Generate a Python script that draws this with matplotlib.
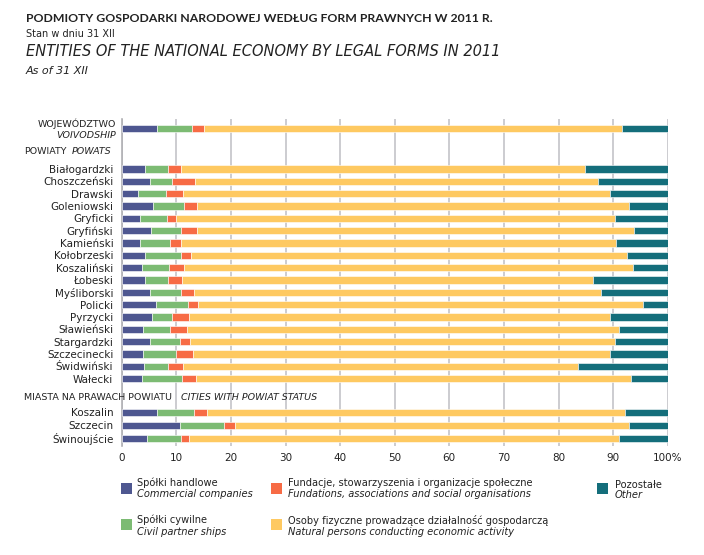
import matplotlib
matplotlib.use("Agg")
import matplotlib.pyplot as plt
from matplotlib.patches import Rectangle
import numpy as np

plt.rcParams['font.family'] = ['DejaVu Sans']

categories = ["Białogardzki", "Choszczeński", "Drawski", "Goleniowski", "Gryficki",
              "Gryfiński", "Kamieński", "Kołobrzeski", "Koszaliński", "Łobeski",
              "Myśliborski", "Policki", "Pyrzycki", "Sławieński", "Stargardzki",
              "Szczecinecki", "Świdwiński", "Wałecki"]
cities = ["Koszalin", "Szczecin", "Świnoujście"]

# cumulative boundaries (blue, +green, +red, +yellow); rest = other
voiv_cum = [6.5, 12.9, 15.1, 91.6]
pow_commercial = [4.3, 5.2, 3.0, 5.7, 3.4, 5.4, 3.4, 4.3, 3.7, 4.3, 5.1, 6.3, 5.5, 3.9, 5.2, 3.9, 4.1, 3.7]
pow_cum_civil  = [8.4, 9.3, 8.1, 11.5, 8.3, 10.9, 8.8, 10.8, 8.7, 8.4, 10.8, 12.1, 9.2, 8.8, 10.6, 10.0, 8.4, 11.0]
pow_cum_found  = [10.9, 13.4, 11.3, 13.7, 9.9, 13.7, 10.8, 12.7, 11.5, 11.0, 13.2, 14.0, 12.3, 12.0, 12.5, 13.1, 11.2, 13.6]
pow_cum_nat    = [84.9, 87.2, 89.5, 93.0, 90.4, 93.8, 90.5, 92.5, 93.6, 86.3, 87.8, 95.4, 89.4, 91.0, 90.4, 89.4, 83.6, 93.3]
city_commercial = [6.5, 10.6, 4.6]
city_cum_civil  = [13.3, 18.7, 10.9]
city_cum_found  = [15.6, 20.8, 12.3]
city_cum_nat    = [92.2, 92.9, 91.1]

series_pl = ["Spółki handlowe", "Spółki cywilne",
             "Fundacje, stowarzyszenia i organizacje społeczne",
             "Osoby fizyczne prowadzące działalność gospodarczą", "Pozostałe"]
series_en = ["Commercial companies", "Civil partner ships",
             "Fundations, associations and social organisations",
             "Natural persons conducting economic activity", "Other"]
colors = ["#4e5790", "#7cbb73", "#f76b45", "#fec961", "#146e7b"]
xticks = [0, 10, 20, 30, 40, 50, 60, 70, 80, 90, 100]
xticklabels = ["0", "10", "20", "30", "40", "50", "60", "70", "80", "90", "100%"]

# assemble rows
cum = np.array([voiv_cum] +
               [list(r) for r in zip(pow_commercial, pow_cum_civil, pow_cum_found, pow_cum_nat)] +
               [list(r) for r in zip(city_commercial, city_cum_civil, city_cum_found, city_cum_nat)])
cum = np.hstack([np.zeros((len(cum), 1)), cum, np.full((len(cum), 1), 100.0)])
widths = np.diff(cum, axis=1)
lefts = cum[:, :-1]

ypos = np.concatenate([[-3.3], np.arange(len(categories)), 19.75 + 1.05 * np.arange(len(cities))])

fig = plt.figure(figsize=(7.04, 5.55), dpi=100)
ax = fig.add_axes([121.7 / 704, 1 - 446 / 555, (667.7 - 121.7) / 704, (446 - 119) / 555])

for k in range(5):
    ax.barh(ypos, widths[:, k], left=lefts[:, k], height=0.58, color=colors[k],
            edgecolor='white', linewidth=0.4, zorder=3)

ax.set_xlim(0, 100)
ax.set_ylim(22.47, -4.06)
ax.set_xticks(xticks)
ax.set_xticklabels(xticklabels, fontsize=7.5, color='#222222')
ax.tick_params(axis='x', length=0, pad=5)
ax.set_yticks(ypos[1:])
ax.set_yticklabels(categories + cities, fontsize=7.5, color='#222222')
ax.tick_params(axis='y', length=0, pad=6)
for s in ['top', 'right', 'bottom']:
    ax.spines[s].set_visible(False)
ax.spines['left'].set_color('#b0b0b4')
ax.spines['left'].set_linewidth(1.2)
ax.grid(axis='x', color='#c4c4c8', linewidth=1.2, zorder=0)
ax.set_axisbelow(True)

# row headers
tr = ax.get_yaxis_transform()
ax.text(-0.011, -3.65, "WOJEWÓDZTWO", transform=tr, ha='right', va='center', fontsize=6.8, color='#222222')
ax.text(-0.011, -2.75, "VOIVODSHIP", transform=tr, ha='right', va='center', fontsize=6.8, style='italic', color='#222222')
fig.text(24 / 704, 1 - 152 / 555, "POWIATY", ha='left', va='center', fontsize=6.8, color='#222222')
fig.text(72 / 704, 1 - 152 / 555, "POWATS", ha='left', va='center', fontsize=6.8, style='italic', color='#222222')
fig.text(24 / 704, 1 - 397 / 555, "MIASTA NA PRAWACH POWIATU", ha='left', va='center', fontsize=6.8, color='#222222')
fig.text(181 / 704, 1 - 397 / 555, "CITIES WITH POWIAT STATUS", ha='left', va='center', fontsize=6.8, style='italic', color='#222222')

# titles
fig.text(26 / 704, 1 - 18 / 555, "PODMIOTY GOSPODARKI NARODOWEJ WEDŁUG FORM PRAWNYCH W 2011 R.",
         ha='left', va='center', fontsize=8.8, fontweight='bold', color='#222222', family='Lato')
fig.text(26 / 704, 1 - 34 / 555, "Stan w dniu 31 XII", ha='left', va='center', fontsize=7, color='#222222')
fig.text(26 / 704, 1 - 52 / 555, "ENTITIES OF THE NATIONAL ECONOMY BY LEGAL FORMS IN 2011",
         ha='left', va='center', fontsize=10.5, style='italic', color='#222222')
fig.text(26 / 704, 1 - 71 / 555, "As of 31 XII", ha='left', va='center', fontsize=8, style='italic', color='#222222')

# legend
leg_pos = [(126, 488, 137, 483, 494), (126, 524, 137, 520, 532),
           (276, 488, 288, 483, 494), (276, 524, 288, 520, 532),
           (602, 488, 615, 485, 495)]
for k in range(5):
    x, y, tx, ty1, ty2 = leg_pos[k]
    fig.patches.append(Rectangle(((x - 5.5) / 704, 1 - (y + 5.5) / 555), 11 / 704, 11 / 555,
                                 transform=fig.transFigure, facecolor=colors[k], edgecolor='none'))
    fig.text(tx / 704, 1 - ty1 / 555, series_pl[k], ha='left', va='center', fontsize=7.1, color='#222222')
    fig.text(tx / 704, 1 - ty2 / 555, series_en[k], ha='left', va='center', fontsize=7.1,
             style='italic', color='#222222')

fig.savefig("out.png", dpi=100)
